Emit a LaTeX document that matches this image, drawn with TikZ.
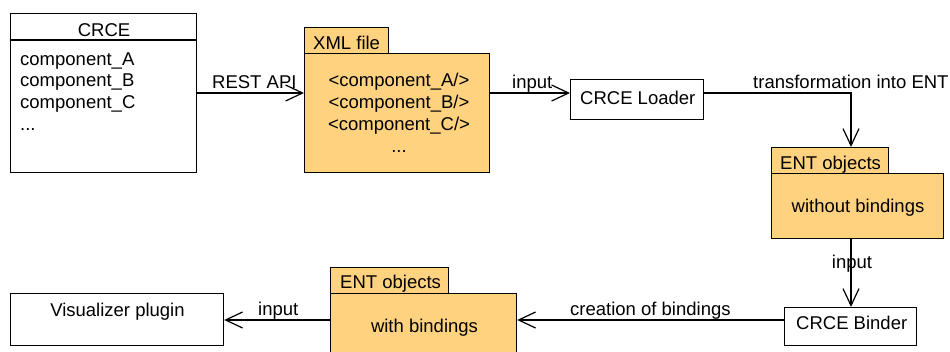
\documentclass[tikz,border=0pt]{standalone}
\usepackage{fontspec}
\setmainfont{Liberation Sans}
\usetikzlibrary{arrows.meta,calc}
\definecolor{pkg}{RGB}{255,210,127}
\begin{document}
\begin{tikzpicture}[x=1pt,y=-1pt,
  box/.style={draw,line width=1.2pt,inner sep=0pt,anchor=north west},
  pkgbox/.style={box,fill=pkg},
  txt/.style={inner sep=0pt,anchor=base,font=\fontsize{18.5}{22}\selectfont},
  txtl/.style={txt,anchor=base west},
  ln/.style={line width=1.2pt},
  arr/.style={line width=1.2pt,-{Straight Barb[length=17pt,width=16pt,line width=1.2pt]}}]
\useasboundingbox (0,0) rectangle (950,351);

% CRCE
\node[box,minimum width=186pt,minimum height=159pt] (crce) at (10,13) {};
\draw[ln] ($(crce.north west)+(0,27)$) -- ($(crce.north east)+(0,27)$);
\node[txt] (crcet) at (104,36) {CRCE};
\node[txtl] (ca) at (20,65) {component\_A};
\node[txtl] (cb) at (20,86.5) {component\_B};
\node[txtl] (cc) at (20,108) {component\_C};
\node[txtl] (cd) at (20,130) {...};

% XML file
\node[pkgbox,minimum width=84pt,minimum height=26pt] (xmltab) at (304,27) {};
\node[pkgbox,minimum width=185pt,minimum height=119pt] (xmlbody) at (304,53) {};
\node[txtl] (xmlt) at (313,49) {XML file};
\node[txt] (xa) at (399,86) {<component\_A/>};
\node[txt] (xb) at (399,108) {<component\_B/>};
\node[txt] (xc) at (399,130) {<component\_C/>};
\node[txt] (xd) at (399,152) {...};

% Loader
\node[box,minimum width=133pt,minimum height=40pt] (loader) at (570,79) {};
\node[txtl] (loadert) at (580,104) {CRCE Loader};

% ENT without bindings
\node[pkgbox,minimum width=117pt,minimum height=26pt] (ent1tab) at (771,147) {};
\node[pkgbox,minimum width=172pt,minimum height=65pt] (ent1body) at (771,173) {};
\node[txtl] (ent1t) at (780,169) {ENT objects};
\node[txt] (ent1b) at (858,212) {without bindings};

% Binder
\node[box,minimum width=132pt,minimum height=38pt] (binder) at (784,307) {};
\node[txtl] (bindert) at (796,329) {CRCE Binder};

% ENT with bindings
\node[pkgbox,minimum width=118pt,minimum height=26pt] (ent2tab) at (330,267) {};
\node[pkgbox,minimum width=186pt,minimum height=70pt] (ent2body) at (330,293) {};
\node[txtl] (ent2t) at (340,288) {ENT objects};
\node[txt] (ent2b) at (424.5,332) {with bindings};

% Visualizer
\node[box,minimum width=213pt,minimum height=52pt] (vis) at (10,293) {};
\node[txt] (vist) at (117.5,316) {Visualizer plugin};

% connectors
\coordinate (r1) at (0,93);
\coordinate (r2) at (0,320);
\coordinate (colx) at (851,0);
\draw[arr] (crce.east |- r1) -- (xmlbody.west |- r1);
\draw[arr] (xmlbody.east |- r1) -- (loader.west |- r1);
\draw[arr] (loader.east |- r1) -| (colx |- ent1tab.north);
\draw[arr] (colx |- ent1body.south) -- (colx |- binder.north);
\draw[arr] (binder.west |- r2) -- (ent2body.east |- r2);
\draw[arr] (ent2body.west |- r2) -- (vis.east |- r2);

% labels
\node[txtl] (l1) at (212,88) {REST API};
\node[txtl] (l2) at (512,88) {input};
\node[txtl] (l3) at (753,88) {transformation into ENT};
\node[txt] (l4) at (852,268) {input};
\node[txtl] (l5) at (570,315) {creation of bindings};
\node[txtl] (l6) at (258,315) {input};
\end{tikzpicture}
\end{document}
